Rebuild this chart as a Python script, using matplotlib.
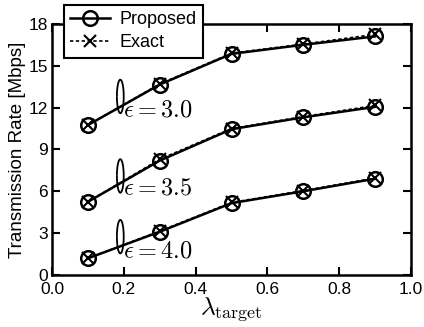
import matplotlib
matplotlib.use("Agg")
import matplotlib.pyplot as plt
from matplotlib.patches import Arc
import numpy as np

plt.rcParams['font.family'] = ['Liberation Sans', 'DejaVu Sans']
plt.rcParams['mathtext.fontset'] = 'cm'

lam = [0.1, 0.3, 0.5, 0.7, 0.9]
proposed_30 = [10.75, 13.65, 15.85, 16.5, 17.1]
exact_30 = [10.75, 13.7, 15.9, 16.55, 17.25]
proposed_35 = [5.25, 8.2, 10.45, 11.3, 12.05]
exact_35 = [5.25, 8.3, 10.5, 11.35, 12.15]
proposed_40 = [1.2, 3.1, 5.15, 6.0, 6.9]
exact_40 = [1.2, 3.15, 5.2, 6.05, 6.95]

eps_labels = [r'$\epsilon = 3.0$', r'$\epsilon = 3.5$', r'$\epsilon = 4.0$']
label_y = [11.8, 6.2, 1.65]
arc_y = [12.8, 7.1, 2.75]

fig = plt.figure(figsize=(4.24, 3.27), dpi=100)
ax = fig.add_axes([0.123, 0.159, 0.846, 0.768])

for p, e in [(proposed_30, exact_30), (proposed_35, exact_35), (proposed_40, exact_40)]:
    ax.plot(lam, e, color='black', lw=1.2, ls=(0, (2, 1.5)), marker='x',
            ms=8, mew=1.5)
    ax.plot(lam, p, color='black', lw=1.8, marker='o', ms=10.5,
            mfc='none', mew=1.8)

# little loop around each group of curves
for txt, ty, ay in zip(eps_labels, label_y, arc_y):
    ax.add_patch(Arc((0.19, ay), 0.019, 2.4, theta1=-155, theta2=155,
                     color='black', lw=1.3))
    ax.text(0.197, ty, txt, fontsize=17.5, va='center', ha='left')

h1, = ax.plot([], [], color='black', lw=1.8, marker='o', ms=10.5, mfc='none', mew=1.8)
h2, = ax.plot([], [], color='black', lw=1.2, ls=(0, (2, 1.5)), marker='x', ms=8, mew=1.5)
leg = ax.legend([h1, h2], ['Proposed', 'Exact'], loc='upper left',
                bbox_to_anchor=(0.033, 1.076), fontsize=13, fancybox=False,
                framealpha=1, edgecolor='black', borderpad=0.35,
                handlelength=2.2, handletextpad=0.5, labelspacing=0.35,
                borderaxespad=0)
leg.get_frame().set_linewidth(1.5)
leg.set_zorder(5)

ax.set_xlim(0, 1)
ax.set_ylim(0, 18)
ax.set_xticks(np.arange(0, 1.01, 0.2))
ax.set_yticks(np.arange(0, 18.1, 3))
ax.set_xticklabels(['0.0', '0.2', '0.4', '0.6', '0.8', '1.0'])
ax.tick_params(direction='in', top=True, right=True, length=6, width=1.5,
               labelsize=12.5)
ax.tick_params(axis='x', pad=5)
ax.tick_params(axis='y', pad=3)
for s in ax.spines.values():
    s.set_linewidth(1.8)

ax.set_xlabel(r'$\lambda_{\mathrm{target}}$', fontsize=18.5, labelpad=-1)
ax.set_ylabel('Transmission Rate [Mbps]', fontsize=13.5, labelpad=2)

fig.savefig('out.png', dpi=100)
